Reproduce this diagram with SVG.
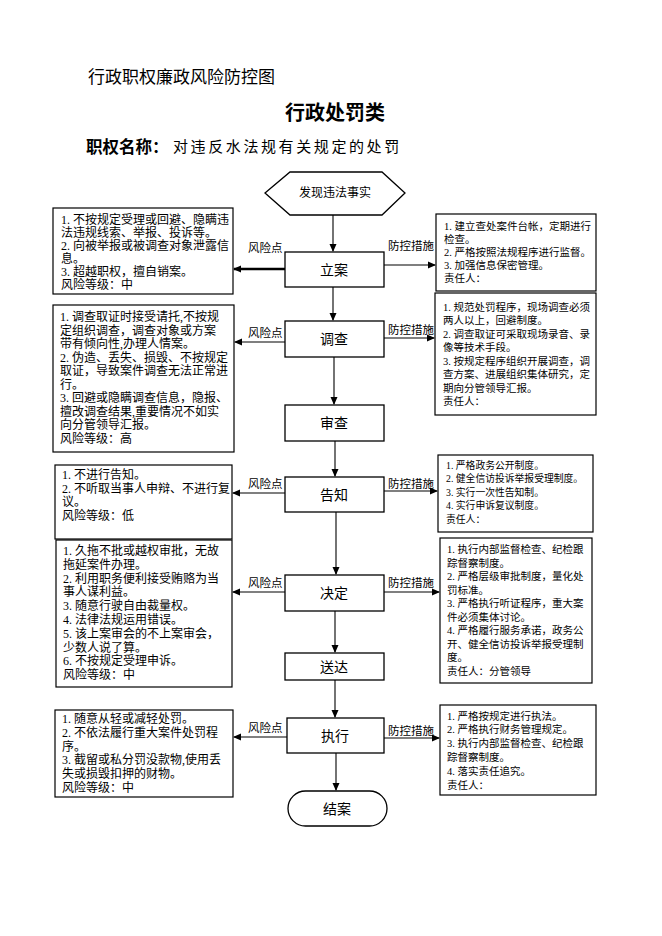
<svg xmlns="http://www.w3.org/2000/svg" width="662" height="936" viewBox="0 0 662 936">
<style>
text{font-family:"Liberation Serif","Noto Sans CJK SC",serif;fill:#000}
.box{fill:#fff;stroke:#000;stroke-width:1.3}
.side{fill:#fff;stroke:#000;stroke-width:1.2}
.ln{stroke:#000;stroke-width:1.1;fill:none}
.c{font-size:14px;text-anchor:middle}
.l{font-size:12px}
.r{font-size:10.5px}
.lab{font-size:11.5px}
</style>
<defs>
<marker id="ah" markerWidth="8" markerHeight="8" refX="7" refY="4" orient="auto" markerUnits="userSpaceOnUse">
<path d="M0,0.5 L8,4 L0,7.5 Z" fill="#000"/>
</marker>
</defs>
<g id="header">
<text x="88" y="83" style="font-size:17px">行政职权廉政风险防控图</text>
<text x="335" y="120" style="font-size:20px;font-weight:bold;text-anchor:middle">行政处罚类</text>
<text x="86" y="153" style="font-size:16.5px;font-weight:bold">职权名称：</text>
<text x="173" y="152" style="font-size:15px;letter-spacing:2.6px">对违反水法规有关规定的处罚</text>
</g>
<g id="start">
<polygon class="box" points="265,193 290,172 382,172 405,193 382,215 290,215"/>
<text class="c" x="335" y="197" style="font-size:12px">发现违法事实</text>
</g>
<g id="lian"><rect class="box" x="285" y="252" width="99" height="35"/><text class="c" x="334" y="275">立案</text></g>
<g id="diaocha"><rect class="box" x="285" y="321" width="99" height="36"/><text class="c" x="334" y="344">调查</text></g>
<g id="shencha"><rect class="box" x="285" y="405" width="99" height="36"/><text class="c" x="334" y="428">审查</text></g>
<g id="gaozhi"><rect class="box" x="285" y="477" width="99" height="35"/><text class="c" x="334" y="500">告知</text></g>
<g id="jueding"><rect class="box" x="285" y="575" width="99" height="36"/><text class="c" x="334" y="598">决定</text></g>
<g id="songda"><rect class="box" x="285" y="653" width="99" height="27"/><text class="c" x="334" y="672">送达</text></g>
<g id="zhixing"><rect class="box" x="287" y="718" width="97" height="35"/><text class="c" x="335" y="741">执行</text></g>
<g id="jiean"><rect class="box" x="288" y="791" width="99" height="35" rx="17.5" ry="17.5"/><text class="c" x="337" y="814">结案</text></g>

<g id="risk1">
<rect class="side" x="53" y="208" width="180" height="86"/>
<text class="l" x="61" y="224">1. 不按规定受理或回避、隐瞒违</text>
<text class="l" x="61" y="237">法违规线索、举报、投诉等。</text>
<text class="l" x="61" y="250">2. 向被举报或被调查对象泄露信</text>
<text class="l" x="61" y="263">息。</text>
<text class="l" x="61" y="276">3. 超越职权，擅自销案。</text>
<text class="l" x="61" y="289">风险等级：中</text>
</g>
<g id="risk2">
<rect class="side" x="53" y="305" width="181" height="147"/>
<text class="l" x="60" y="321">1. 调查取证时接受请托,不按规</text>
<text class="l" x="60" y="334.5">定组织调查，调查对象或方案</text>
<text class="l" x="60" y="348">带有倾向性,办理人情案。</text>
<text class="l" x="60" y="361.5">2. 伪造、丢失、损毁、不按规定</text>
<text class="l" x="60" y="375">取证，导致案件调查无法正常进</text>
<text class="l" x="60" y="388.5">行。</text>
<text class="l" x="60" y="402">3. 回避或隐瞒调查信息，隐报、</text>
<text class="l" x="60" y="415.5">擅改调查结果,重要情况不如实</text>
<text class="l" x="60" y="429">向分管领导汇报。</text>
<text class="l" x="60" y="442.5">风险等级：高</text>
</g>
<g id="risk3">
<rect class="side" x="55" y="465" width="177" height="74"/>
<text class="l" x="62" y="479">1. 不进行告知。</text>
<text class="l" x="62" y="492.5">2. 不听取当事人申辩、不进行复</text>
<text class="l" x="62" y="506">议。</text>
<text class="l" x="62" y="519.5">风险等级：低</text>
</g>
<g id="risk4">
<rect class="side" x="56" y="540" width="176" height="147"/>
<text class="l" x="63" y="555">1. 久拖不批或越权审批，无故</text>
<text class="l" x="63" y="568.8">拖延案件办理。</text>
<text class="l" x="63" y="582.6">2. 利用职务便利接受贿赂为当</text>
<text class="l" x="63" y="596.4">事人谋利益。</text>
<text class="l" x="63" y="610.2">3. 随意行驶自由裁量权。</text>
<text class="l" x="63" y="624">4. 法律法规运用错误。</text>
<text class="l" x="63" y="637.8">5. 该上案审会的不上案审会，</text>
<text class="l" x="63" y="651.6">少数人说了算。</text>
<text class="l" x="63" y="665.4">6. 不按规定受理申诉。</text>
<text class="l" x="63" y="679.2">风险等级：中</text>
</g>
<g id="risk5">
<rect class="side" x="55" y="710" width="178" height="87"/>
<text class="l" x="62" y="723">1. 随意从轻或减轻处罚。</text>
<text class="l" x="62" y="736.8">2. 不依法履行重大案件处罚程</text>
<text class="l" x="62" y="750.6">序。</text>
<text class="l" x="62" y="764.4">3. 截留或私分罚没款物,使用丢</text>
<text class="l" x="62" y="778.2">失或损毁扣押的财物。</text>
<text class="l" x="62" y="792">风险等级：中</text>
</g>

<g id="measure1">
<rect class="side" x="436" y="214" width="160" height="77"/>
<text class="r" x="444" y="230">1. 建立查处案件台帐，定期进行</text>
<text class="r" x="444" y="243">检查。</text>
<text class="r" x="444" y="256">2. 严格按照法规程序进行监督。</text>
<text class="r" x="444" y="269">3. 加强信息保密管理。</text>
<text class="r" x="444" y="282">责任人：</text>
</g>
<g id="measure2">
<rect class="side" x="435" y="293" width="161" height="122"/>
<text class="r" x="443" y="310.5">1. 规范处罚程序，现场调查必须</text>
<text class="r" x="443" y="324">两人以上，回避制度。</text>
<text class="r" x="443" y="337.5">2. 调查取证可采取现场录音、录</text>
<text class="r" x="443" y="351">像等技术手段。</text>
<text class="r" x="443" y="364.5">3. 按规定程序组织开展调查，调</text>
<text class="r" x="443" y="378">查方案、进展组织集体研究，定</text>
<text class="r" x="443" y="391.5">期向分管领导汇报。</text>
<text class="r" x="443" y="405">责任人：</text>
</g>
<g id="measure3">
<rect class="side" x="438" y="455" width="155" height="77"/>
<text class="r" x="446" y="468.5" style="font-size:9.8px">1. 严格政务公开制度。</text>
<text class="r" x="446" y="482" style="font-size:9.8px">2. 健全信访投诉举报受理制度。</text>
<text class="r" x="446" y="495.5" style="font-size:9.8px">3. 实行一次性告知制。</text>
<text class="r" x="446" y="509" style="font-size:9.8px">4. 实行申诉复议制度。</text>
<text class="r" x="446" y="522.5" style="font-size:9.8px">责任人：</text>
</g>
<g id="measure4">
<rect class="side" x="440" y="538" width="152" height="145"/>
<text class="r" x="447" y="553">1. 执行内部监督检查、纪检跟</text>
<text class="r" x="447" y="566.5">踪督察制度。</text>
<text class="r" x="447" y="580">2. 严格层级审批制度，量化处</text>
<text class="r" x="447" y="593.5">罚标准。</text>
<text class="r" x="447" y="607">3. 严格执行听证程序，重大案</text>
<text class="r" x="447" y="620.5">件必须集体讨论。</text>
<text class="r" x="447" y="634">4. 严格履行服务承诺，政务公</text>
<text class="r" x="447" y="647.5">开、健全信访投诉举报受理制</text>
<text class="r" x="447" y="661">度。</text>
<text class="r" x="447" y="674.5">责任人：分管领导</text>
</g>
<g id="measure5">
<rect class="side" x="440" y="705" width="156" height="90"/>
<text class="r" x="447" y="719.5">1. 严格按规定进行执法。</text>
<text class="r" x="447" y="733.3">2. 严格执行财务管理规定。</text>
<text class="r" x="447" y="747.1">3. 执行内部监督检查、纪检跟</text>
<text class="r" x="447" y="760.9">踪督察制度。</text>
<text class="r" x="447" y="774.7">4. 落实责任追究。</text>
<text class="r" x="447" y="788.5">责任人：</text>
</g>

<g id="connectors">
<line class="ln" x1="333" y1="215" x2="333" y2="251" marker-end="url(#ah)"/>
<line class="ln" x1="333" y1="287" x2="333" y2="320" marker-end="url(#ah)"/>
<line class="ln" x1="334" y1="357" x2="334" y2="404" marker-end="url(#ah)"/>
<line class="ln" x1="335" y1="441" x2="335" y2="476" marker-end="url(#ah)"/>
<line class="ln" x1="336" y1="512" x2="336" y2="574" marker-end="url(#ah)"/>
<line class="ln" x1="335" y1="611" x2="335" y2="652" marker-end="url(#ah)"/>
<line class="ln" x1="335" y1="680" x2="335" y2="717" marker-end="url(#ah)"/>
<line class="ln" x1="336" y1="753" x2="336" y2="790" marker-end="url(#ah)"/>

<line class="ln" x1="285" y1="269" x2="234" y2="269" style="stroke-width:2.6" marker-end="url(#ah)"/>
<line class="ln" x1="285" y1="342" x2="235" y2="342" marker-end="url(#ah)"/>
<line class="ln" x1="285" y1="493" x2="233" y2="493" marker-end="url(#ah)"/>
<line class="ln" x1="285" y1="592" x2="233" y2="592" marker-end="url(#ah)"/>
<line class="ln" x1="287" y1="737" x2="234" y2="737" marker-end="url(#ah)"/>

<line class="ln" x1="384" y1="265" x2="435" y2="265" marker-end="url(#ah)"/>
<line class="ln" x1="384" y1="338" x2="434" y2="338" marker-end="url(#ah)"/>
<line class="ln" x1="384" y1="491" x2="437" y2="491" marker-end="url(#ah)"/>
<line class="ln" x1="384" y1="592" x2="439" y2="592" marker-end="url(#ah)"/>
<line class="ln" x1="384" y1="738" x2="439" y2="738" marker-end="url(#ah)"/>

<text class="lab" x="248" y="252">风险点</text>
<text class="lab" x="248" y="337">风险点</text>
<text class="lab" x="248" y="488">风险点</text>
<text class="lab" x="248" y="587">风险点</text>
<text class="lab" x="248" y="732">风险点</text>
<text class="lab" x="388" y="250">防控措施</text>
<text class="lab" x="388" y="334">防控措施</text>
<text class="lab" x="388" y="488">防控措施</text>
<text class="lab" x="388" y="587">防控措施</text>
<text class="lab" x="388" y="735">防控措施</text>
</g>
</svg>
